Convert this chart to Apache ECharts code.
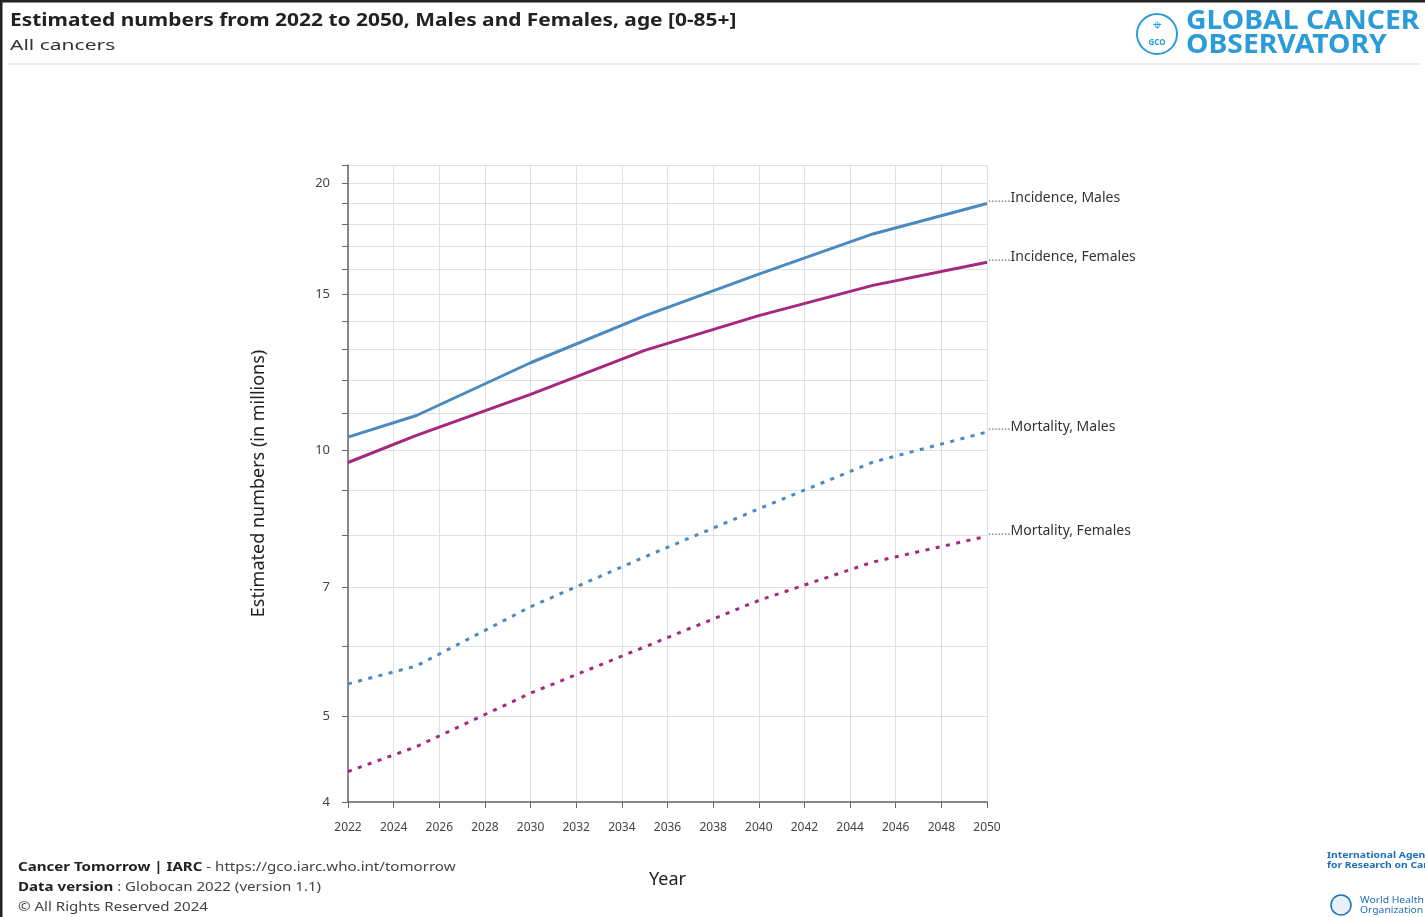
<!DOCTYPE html>
<html><head><meta charset="utf-8">
<script src="https://cdn.jsdelivr.net/npm/echarts@6/dist/echarts.min.js"></script>
<style>html,body{margin:0;padding:0;background:#fff}#c{width:1425px;height:917px}</style>
</head><body><div id="c"></div>
<script>
// ---- data ----
const years = [2022, 2025, 2030, 2035, 2040, 2045, 2050];
const incidenceMales   = [10.34, 10.94, 12.55, 14.18, 15.81, 17.55, 19.00];
const incidenceFemales = [9.68, 10.39, 11.56, 12.96, 14.19, 15.35, 16.30];
const mortalityMales   = [5.44, 5.70, 6.65, 7.57, 8.58, 9.69, 10.48];
const mortalityFemales = [4.33, 4.62, 5.31, 5.99, 6.76, 7.47, 7.99];
const seriesNames = ['Incidence, Males', 'Incidence, Females', 'Mortality, Males', 'Mortality, Females'];
const yLabelTicks = [4, 5, 7, 10, 15, 20];
const yGridTicks = [4, 5, 6, 7, 8, 9, 10, 11, 12, 13, 14, 15, 16, 17, 18, 19, 20, 21];
const yMin = 4, yMax = 21;
const xMin = 2022, xMax = 2050, xStep = 2;

const BLUE = '#4a8ac0', MAGENTA = '#a6277f';
const FONT = 'Noto Sans';

function mk(name, vals, color, dotted) {
  return {
    name: name, type: 'line',
    data: years.map((y, i) => [y, vals[i]]),
    showSymbol: false, symbol: 'none', smooth: false,
    lineStyle: { color: color, width: 3, type: dotted ? [4, 6.5] : 'solid' },
    itemStyle: { color: color },
    emphasis: { disabled: true },
    endLabel: {
      show: true, distance: 1, offset: [0, -5],
      formatter: '{d|.......}{t|' + name + '}',
      rich: {
        d: { color: '#888', fontSize: 12, fontFamily: FONT },
        t: { color: '#333', fontSize: 14, fontFamily: FONT }
      }
    }
  };
}

function txt(x, y, text, font, fill, sx, extra) {
  return Object.assign({
    type: 'text', x: x, y: y, scaleX: sx || 1, scaleY: 1,
    style: { text: text, font: font, fill: fill, verticalAlign: 'middle', align: 'left' }
  }, extra || {});
}

const chart = echarts.init(document.getElementById('c'), null, { renderer: 'canvas' });
chart.setOption({
  animation: false,
  backgroundColor: '#fff',
  textStyle: { fontFamily: FONT },
  grid: { left: 348, right: 438, top: 165, bottom: 115, containLabel: false },
  xAxis: {
    type: 'value', min: xMin, max: xMax, interval: xStep,
    name: 'Year', nameLocation: 'middle', nameGap: 69,
    nameTextStyle: { fontSize: 18, color: '#222', fontFamily: FONT },
    axisLine: { show: true, lineStyle: { color: '#666', width: 1.5 } },
    axisTick: { show: true, length: 6, lineStyle: { color: '#666' } },
    axisLabel: { fontSize: 12, color: '#444', margin: 20, formatter: v => String(v) },
    splitLine: { show: true, lineStyle: { color: '#e0e0e0', width: 1 } }
  },
  yAxis: {
    type: 'log', logBase: 10, min: yMin, max: yMax,
    name: 'Estimated numbers (in millions)', nameLocation: 'middle', nameGap: 80,
    nameTextStyle: { fontSize: 18, color: '#222', fontFamily: FONT },
    axisLine: { show: true, lineStyle: { color: '#666', width: 1.5 } },
    axisTick: { show: true, length: 6, customValues: yGridTicks, lineStyle: { color: '#666' } },
    axisLabel: { fontSize: 13, color: '#444', margin: 18, customValues: yLabelTicks, formatter: v => String(Math.round(v)) },
    splitLine: { show: true, lineStyle: { color: '#e0e0e0', width: 1 } },
    minorTick: { show: false }, minorSplitLine: { show: false }
  },
  series: [
    mk(seriesNames[0], incidenceMales, BLUE, false),
    mk(seriesNames[1], incidenceFemales, MAGENTA, false),
    mk(seriesNames[2], mortalityMales, BLUE, true),
    mk(seriesNames[3], mortalityFemales, MAGENTA, true)
  ],
  graphic: [
    { type: 'line', shape: { x1: 1, y1: 0, x2: 1, y2: 917 }, style: { stroke: '#222', lineWidth: 3 } },
    { type: 'line', shape: { x1: 0, y1: 1, x2: 1425, y2: 1 }, style: { stroke: '#222', lineWidth: 3 } },
    txt(10, 21, 'Estimated numbers from 2022 to 2050, Males and Females, age [0-85+]', 'bold 17px "Noto Sans"', '#222', 1.23),
    txt(10, 46, 'All cancers', '15px "Noto Sans"', '#333', 1.4),
    { type: 'line', shape: { x1: 8, y1: 64, x2: 1420, y2: 64 }, style: { stroke: '#e6e6e6', lineWidth: 1.5 } },
    // GCO logo
    { type: 'circle', shape: { cx: 1157, cy: 34, r: 20 }, style: { fill: 'none', stroke: '#2b9cd8', lineWidth: 2 } },
    { type: 'text', x: 1157, y: 26, style: { text: '⌖', font: '15px "DejaVu Sans"', fill: '#2b9cd8', align: 'center', verticalAlign: 'middle' } },
    { type: 'text', x: 1157, y: 43, style: { text: 'GCO', font: 'bold 8px "Noto Sans"', fill: '#2b9cd8', align: 'center', verticalAlign: 'middle' } },
    txt(1186, 22, 'GLOBAL CANCER', 'bold 26px "Noto Sans"', '#2b9cd8', 1.09),
    txt(1186, 46, 'OBSERVATORY', 'bold 26px "Noto Sans"', '#2b9cd8', 1.09),
    // footer
    { type: 'text', x: 18, y: 867, scaleX: 1.16,
      style: { verticalAlign: 'middle', rich: { b: { font: 'bold 13px "Noto Sans"', fill: '#222' }, n: { font: '13px "Noto Sans"', fill: '#444' } },
        text: '{b|Cancer Tomorrow | IARC}{n| - https://gco.iarc.who.int/tomorrow}' } },
    { type: 'text', x: 18, y: 887, scaleX: 1.16,
      style: { verticalAlign: 'middle', rich: { b: { font: 'bold 13px "Noto Sans"', fill: '#222' }, n: { font: '13px "Noto Sans"', fill: '#444' } },
        text: '{b|Data version}{n| : Globocan 2022 (version 1.1)}' } },
    txt(18, 907, '© All Rights Reserved 2024', '13px "Noto Sans"', '#444', 1.16),
    // bottom-right partner logos
    txt(1327, 855, 'International Agency', 'bold 9px "Noto Sans"', '#1d6fb8', 1.15),
    txt(1327, 865, 'for Research on Cancer', 'bold 9px "Noto Sans"', '#1d6fb8', 1.15),
    { type: 'circle', shape: { cx: 1341, cy: 905, r: 10 }, style: { fill: '#e8f1fa', stroke: '#1d6fb8', lineWidth: 1.5 } },
    txt(1360, 900, 'World Health', '9px "Noto Sans"', '#1d6fb8', 1.15),
    txt(1360, 910, 'Organization', '9px "Noto Sans"', '#1d6fb8', 1.15)
  ]
});
</script>
</body></html>
